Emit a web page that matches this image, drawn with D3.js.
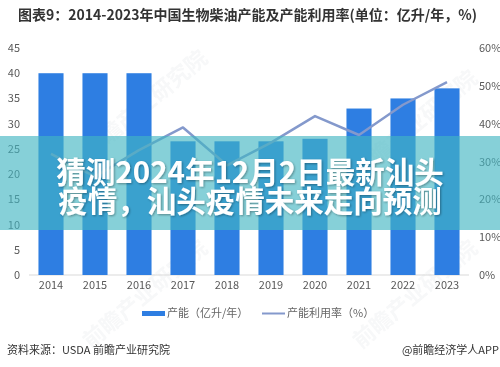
<!DOCTYPE html>
<html><head><meta charset="utf-8">
<script src="https://cdn.jsdelivr.net/npm/d3@7"></script>
<style>
html,body{margin:0;padding:0;background:#fff;}
svg{display:block;font-family:"Noto Sans CJK SC","Noto Sans",sans-serif;}
</style></head>
<body><svg id="c" width="500" height="367"></svg>
<script>
const years = ["2014","2015","2016","2017","2018","2019","2020","2021","2022","2023"];
const capacity = [40,40,40,26.5,26.5,26.5,27,33,35,37];
const utilization = [32,26,33,39,29,35,42,37,45,51];
const leftTicks = [0,5,10,15,20,25,30,35,40,45];
const rightTicks = [0,10,20,30,40,50,60];
const titleText = "图表9：2014-2023年中国生物柴油产能及产能利用率(单位：亿升/年，%)";
const overlayLines = ["猜测2024年12月2日最新汕头","疫情，汕头疫情未来走向预测"];
const legendLabels = ["产能（亿升/年）","产能利用率（%）"];
const sourceText = "资料来源：USDA 前瞻产业研究院";
const creditText = "@前瞻经济学人APP";

const svg = d3.select("#c");
const x = d3.scaleBand().domain(years).range([29,469]).paddingInner(0.43).paddingOuter(0.215);
const yL = d3.scaleLinear().domain([0,45]).range([275,48]);
const yR = d3.scaleLinear().domain([0,60]).range([275,48]);

// watermarks
const wm = svg.append("g").attr("fill","#9aa3ad").attr("opacity",0.08).attr("font-size",22).attr("font-weight","bold");
[[150,110],[420,130],[150,300],[420,300]].forEach(([a,b])=>{
  wm.append("text").attr("transform",`translate(${a},${b}) rotate(-40)`).attr("text-anchor","middle").text("前瞻产业研究院");
});

// title
svg.append("text").attr("x",18).attr("y",20).attr("font-size",14).attr("font-weight","bold")
  .attr("fill","#333").text(titleText);

// baseline
svg.append("line").attr("x1",29).attr("x2",469).attr("y1",yL(0)).attr("y2",yL(0)).attr("stroke","#d9d9d9");

// axes
const gl = svg.append("g").attr("transform","translate(20,0)").call(d3.axisLeft(yL).tickValues(leftTicks).tickSize(0).tickPadding(0));
gl.select(".domain").remove();
gl.selectAll("text").attr("font-size",11).attr("fill","#595959").attr("font-family","'Noto Sans CJK SC',sans-serif");
const gr = svg.append("g").attr("transform","translate(479,0)").call(d3.axisRight(yR).tickValues(rightTicks).tickFormat(d=>d+"%").tickSize(0).tickPadding(0));
gr.select(".domain").remove();
gr.selectAll("text").attr("font-size",11).attr("fill","#595959").attr("font-family","'Noto Sans CJK SC',sans-serif");
const gx = svg.append("g").attr("transform","translate(0,281)").call(d3.axisBottom(x).tickSize(0).tickPadding(0));
gx.select(".domain").remove();
gx.selectAll("text").attr("font-size",11).attr("fill","#595959").attr("dy","0.75em").attr("font-family","'Noto Sans CJK SC',sans-serif");

// bars
svg.append("g").selectAll("rect").data(years).join("rect")
  .attr("x",d=>x(d)).attr("width",x.bandwidth())
  .attr("y",(d,i)=>yL(capacity[i])).attr("height",(d,i)=>yL(0)-yL(capacity[i]))
  .attr("fill","#2e7ee2");

// line
const line = d3.line().x((d,i)=>x(years[i])+x.bandwidth()/2).y(d=>yR(d));
svg.append("path").datum(utilization).attr("d",line).attr("fill","none")
  .attr("stroke","#8499cc").attr("stroke-width",2.5).attr("stroke-linejoin","round");

// legend
const lg = svg.append("g").attr("font-size",11).attr("fill","#666");
lg.append("rect").attr("x",142).attr("y",311).attr("width",23).attr("height",5).attr("fill","#2e7ee2");
lg.append("text").attr("x",167).attr("y",317).text(legendLabels[0]);
lg.append("line").attr("x1",262).attr("x2",285).attr("y1",313.5).attr("y2",313.5).attr("stroke","#8499cc").attr("stroke-width",2);
lg.append("text").attr("x",287).attr("y",317).text(legendLabels[1]);

// source
svg.append("text").attr("x",7).attr("y",354).attr("font-size",11).attr("fill","#333").text(sourceText);
svg.append("text").attr("x",499).attr("y",354).attr("font-size",11).attr("fill","#333").attr("text-anchor","end").text(creditText);

// overlay band
svg.append("rect").attr("x",0).attr("y",136).attr("width",500).attr("height",94)
  .attr("fill","rgb(66,182,194)").attr("opacity",0.64);

const defs = svg.append("defs");
const f = defs.append("filter").attr("id","sh").attr("x","-10%").attr("y","-30%").attr("width","120%").attr("height","160%");
f.append("feDropShadow").attr("dx",1).attr("dy",1).attr("stdDeviation",1.2).attr("flood-color","#000").attr("flood-opacity",0.35);
svg.append("g").attr("filter","url(#sh)").selectAll("text").data(overlayLines).join("text")
  .attr("x",250).attr("y",(d,i)=>182.5+i*29.5).attr("text-anchor","middle")
  .attr("font-size",29.5).attr("font-weight","bold").attr("fill","#fff").text(d=>d);
</script></body></html>
